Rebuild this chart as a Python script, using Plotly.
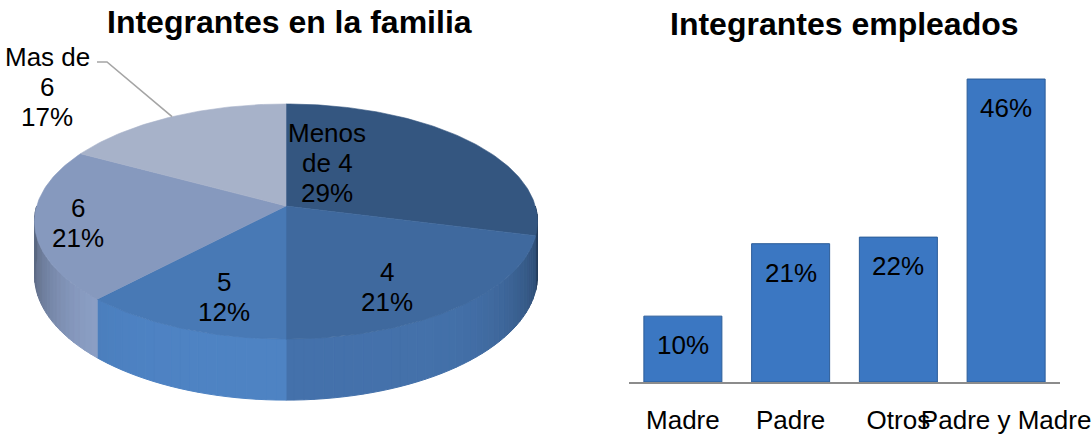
import math
import numpy as np
import plotly.graph_objects as go

# ---------------- data ----------------
pie_labels = ["Menos de 4", "4", "5", "6", "Mas de 6"]
pie_values = [29, 21, 12, 21, 17]
pie_wrapped = ["Menos<br>de 4", "4", "5", "6", "Mas de<br>6"]

bar_categories = ["Madre", "Padre", "Otros", "Padre y Madre"]
bar_values = [10, 21, 22, 46]

# ---------------- style ----------------
W, H = 1092, 436
FONT = "Liberation Sans, Arial, sans-serif"
top_colors = [(52, 86, 128), (63, 105, 158), (72, 121, 181), (134, 153, 190), (167, 178, 201)]
# pie projection (perspective of a tilted disc), in pixel units of the left panel
CX, CY0 = 286.0, 206.0
A, B, P, DEPTH = 249.3, 115.5, 0.132, 53.0
# label placement inside slices: (angle offset from mid-slice in degrees, radius factor)
label_adj = [(-28.3, 0.43), (7.6, 0.74), (-4.1, 0.75), (-1.0, 0.83), None]
LINE_H = 30.0
outside_label_xy = (47.0, 87.0)
leader_elbow = [(97.0, 62.0), (107.0, 62.0)]
bar_color = "#3b77c2"
bar_line = "#2c5d99"


def proj(theta_deg, r=1.0, h=0.0):
    t = math.radians(theta_deg)
    X, Z = r * math.sin(t), r * math.cos(t)
    w = 1 + P * Z
    return CX + A * X / w, CY0 - B * Z / w + h * DEPTH / w


def rgb(c, f=1.0):
    return "rgb(%d,%d,%d)" % tuple(max(0, min(255, int(round(v * f)))) for v in c)


fig = go.Figure()

total = float(sum(pie_values))
bounds = []
acc = 0.0
for v in pie_values:
    t1 = acc / total * 360.0
    acc += v
    t2 = acc / total * 360.0
    bounds.append((t1, t2))

# sides (front half of the disc), drawn first
for (t1, t2), col in zip(bounds, top_colors):
    lo, hi = max(t1, 90.0), min(t2, 270.0)
    if lo >= hi:
        continue
    edges = list(np.arange(lo, hi, 2.0)) + [hi]
    for a, b in zip(edges[:-1], edges[1:]):
        mid = math.radians((a + b) / 2)
        X = abs(math.sin(mid))
        f = 1.08 - 0.40 * X ** 6
        pts = [proj(a), proj(b), proj(b, h=1), proj(a, h=1), proj(a)]
        c = rgb(col, f)
        fig.add_trace(go.Scatter(
            x=[p[0] for p in pts], y=[p[1] for p in pts], mode="lines",
            fill="toself", fillcolor=c, line=dict(color=c, width=1),
            hoverinfo="skip", showlegend=False, xaxis="x", yaxis="y"))

# top faces
apex = proj(0, r=0.0)
for (t1, t2), col, name in zip(bounds, top_colors, pie_labels):
    n = max(3, int(math.ceil(t2 - t1)) + 1)
    arc = [proj(t) for t in np.linspace(t1, t2, n)]
    pts = [apex] + arc + [apex]
    c = rgb(col)
    fig.add_trace(go.Scatter(
        x=[p[0] for p in pts], y=[p[1] for p in pts], mode="lines",
        fill="toself", fillcolor=c, line=dict(color=c, width=0.6),
        name=name, hoverinfo="name", showlegend=False, xaxis="x", yaxis="y"))

annotations = []


def add_lines(x, y, lines, size):
    n = len(lines)
    for i, s in enumerate(lines):
        annotations.append(dict(
            x=x, y=y + (i - (n - 1) / 2.0) * LINE_H, xref="x", yref="y",
            text=s, showarrow=False, xanchor="center", yanchor="middle",
            font=dict(family=FONT, size=size, color="black")))


for (t1, t2), v, wrapped, adj in zip(bounds, pie_values, pie_wrapped, label_adj):
    pct = "%d%%" % round(v / total * 100)
    lines = wrapped.split("<br>") + [pct]
    if adj is not None:
        off, r = adj
        lx, ly = proj((t1 + t2) / 2 + off, r=r)
        add_lines(lx, ly, lines, 26)
    else:
        # outside label with leader line to the rim at mid-slice
        rim = proj((t1 + t2) / 2)
        path = leader_elbow + [rim]
        fig.add_trace(go.Scatter(
            x=[p[0] for p in path], y=[p[1] for p in path], mode="lines",
            line=dict(color="rgb(165,165,165)", width=1.6),
            hoverinfo="skip", showlegend=False, xaxis="x", yaxis="y"))
        add_lines(outside_label_xy[0], outside_label_xy[1], lines, 26)

# bar chart
fig.add_trace(go.Bar(
    x=bar_categories, y=bar_values, xaxis="x2", yaxis="y2",
    marker=dict(color=bar_color, line=dict(color=bar_line, width=1)),
    showlegend=False, hovertemplate="%{x}: %{y}%<extra></extra>"))

for c, v in zip(bar_categories, bar_values):
    annotations.append(dict(
        x=c, y=v, xref="x2", yref="y2", yshift=-29, text="%d%%" % v,
        showarrow=False, xanchor="center", yanchor="middle",
        font=dict(family=FONT, size=26, color="black")))

# titles
annotations.append(dict(x=289 / W, y=1 - 22 / H, xref="paper", yref="paper",
                        text="<b>Integrantes en la familia</b>", showarrow=False,
                        xanchor="center", yanchor="middle",
                        font=dict(family=FONT, size=32, color="black")))
annotations.append(dict(x=844 / W, y=1 - 24 / H, xref="paper", yref="paper",
                        text="<b>Integrantes empleados</b>", showarrow=False,
                        xanchor="center", yanchor="middle",
                        font=dict(family=FONT, size=32, color="black")))

fig.update_layout(
    template="none",
    width=W, height=H, autosize=False,
    margin=dict(l=0, r=0, t=0, b=0, pad=0, autoexpand=False),
    paper_bgcolor="white", plot_bgcolor="rgba(0,0,0,0)",
    bargap=0.276,
    xaxis=dict(domain=[0, 546 / W], range=[0, 546], visible=False,
               fixedrange=True, automargin=False),
    yaxis=dict(domain=[0, 1], range=[H, 0], visible=False,
               fixedrange=True, automargin=False),
    xaxis2=dict(domain=[629 / W, 1060 / W], anchor="y2", showline=True,
                linecolor="#8c8c8c", linewidth=2, showgrid=False, zeroline=False,
                ticks="", tickangle=0, ticklabelstandoff=14,
                tickfont=dict(family=FONT, size=26, color="black"),
                fixedrange=True, automargin=False),
    yaxis2=dict(domain=[54 / H, 383.3 / H], anchor="x2", range=[0, 50],
                visible=False, fixedrange=True, automargin=False),
    annotations=annotations,
    font=dict(family=FONT),
)

fig.write_html(
    "out.html",
    config={"displayModeBar": False},
    post_script=(
        "document.body.style.margin='0';"
        "document.body.style.overflow='hidden';"
        "var gd=document.getElementById('{plot_id}');"
        "gd.style.width='%dpx';gd.style.height='%dpx';"
        "Plotly.relayout(gd,{width:%d,height:%d});" % (W, H, W, H)
    ),
)
